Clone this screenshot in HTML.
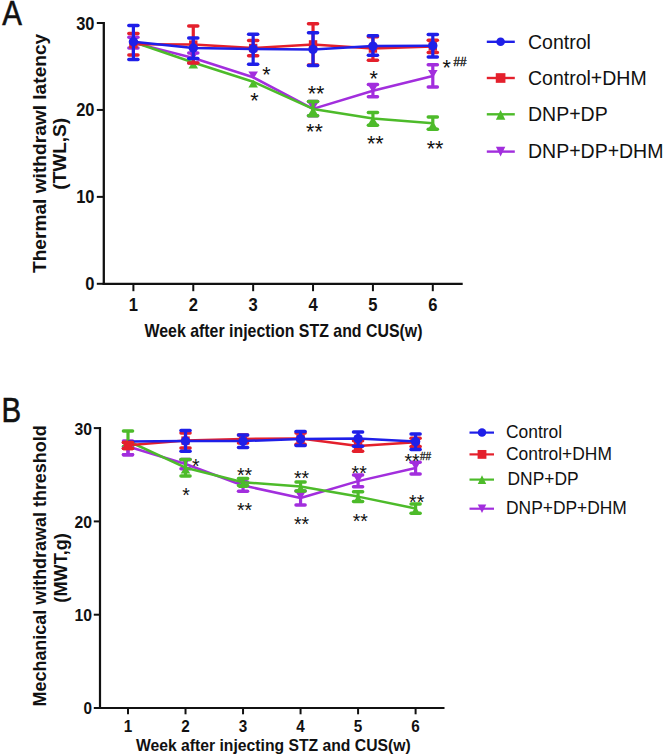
<!DOCTYPE html>
<html><head><meta charset="utf-8"><style>
html,body{margin:0;padding:0;background:#fff;}
body{width:663px;height:756px;overflow:hidden;}
svg{display:block;font-family:"Liberation Sans",sans-serif;}
</style></head><body>
<svg width="663" height="756" viewBox="0 0 663 756">
<rect width="663" height="756" fill="#fff"/>
<line x1="103.8" y1="22" x2="103.8" y2="285" stroke="#111" stroke-width="2.3"/>
<line x1="102.7" y1="283.8" x2="462.7" y2="283.8" stroke="#111" stroke-width="2.3"/>
<line x1="96.8" y1="23.01" x2="103.8" y2="23.01" stroke="#111" stroke-width="2"/>
<text transform="translate(94.5 29.51)" font-size="18" fill="#111" font-weight="bold" text-anchor="end" textLength="18.3" lengthAdjust="spacingAndGlyphs">30</text>
<line x1="96.8" y1="109.94" x2="103.8" y2="109.94" stroke="#111" stroke-width="2"/>
<text transform="translate(94.5 116.44)" font-size="18" fill="#111" font-weight="bold" text-anchor="end" textLength="18.3" lengthAdjust="spacingAndGlyphs">20</text>
<line x1="96.8" y1="196.87" x2="103.8" y2="196.87" stroke="#111" stroke-width="2"/>
<text transform="translate(94.5 203.37)" font-size="18" fill="#111" font-weight="bold" text-anchor="end" textLength="18.3" lengthAdjust="spacingAndGlyphs">10</text>
<line x1="96.8" y1="283.8" x2="103.8" y2="283.8" stroke="#111" stroke-width="2"/>
<text transform="translate(94.5 290.3)" font-size="18" fill="#111" font-weight="bold" text-anchor="end" textLength="9.2" lengthAdjust="spacingAndGlyphs">0</text>
<line x1="133.4" y1="283.8" x2="133.4" y2="291.2" stroke="#111" stroke-width="2"/>
<text transform="translate(133.4 311)" font-size="18" fill="#111" font-weight="bold" text-anchor="middle" textLength="9.2" lengthAdjust="spacingAndGlyphs">1</text>
<line x1="193.28" y1="283.8" x2="193.28" y2="291.2" stroke="#111" stroke-width="2"/>
<text transform="translate(193.28 311)" font-size="18" fill="#111" font-weight="bold" text-anchor="middle" textLength="9.2" lengthAdjust="spacingAndGlyphs">2</text>
<line x1="253.16" y1="283.8" x2="253.16" y2="291.2" stroke="#111" stroke-width="2"/>
<text transform="translate(253.16 311)" font-size="18" fill="#111" font-weight="bold" text-anchor="middle" textLength="9.2" lengthAdjust="spacingAndGlyphs">3</text>
<line x1="313.04" y1="283.8" x2="313.04" y2="291.2" stroke="#111" stroke-width="2"/>
<text transform="translate(313.04 311)" font-size="18" fill="#111" font-weight="bold" text-anchor="middle" textLength="9.2" lengthAdjust="spacingAndGlyphs">4</text>
<line x1="372.92" y1="283.8" x2="372.92" y2="291.2" stroke="#111" stroke-width="2"/>
<text transform="translate(372.92 311)" font-size="18" fill="#111" font-weight="bold" text-anchor="middle" textLength="9.2" lengthAdjust="spacingAndGlyphs">5</text>
<line x1="432.8" y1="283.8" x2="432.8" y2="291.2" stroke="#111" stroke-width="2"/>
<text transform="translate(432.8 311)" font-size="18" fill="#111" font-weight="bold" text-anchor="middle" textLength="9.2" lengthAdjust="spacingAndGlyphs">6</text>
<text transform="translate(283.5 337.0)" font-size="18.5" fill="#111" font-weight="bold" text-anchor="middle" textLength="278" lengthAdjust="spacingAndGlyphs">Week after injection STZ and CUS(w)</text>
<text transform="translate(46 153.4) rotate(-90)" font-size="19" fill="#111" font-weight="bold" text-anchor="middle" textLength="239.3" lengthAdjust="spacingAndGlyphs">Thermal withdrawl latency</text>
<text transform="translate(65.5 153.8) rotate(-90)" font-size="19" fill="#111" font-weight="bold" text-anchor="middle" textLength="72" lengthAdjust="spacingAndGlyphs">(TWL,S)</text>
<text transform="translate(2.3 24.8) scale(0.82 1)" font-size="36" fill="#111" stroke="#111" stroke-width="0.6">A</text>
<path d="M133.4 42.6 L193.28 58.0 L253.16 77.3 L313.04 108.9 L372.92 90.7 L432.8 76.0" fill="none" stroke="#a22edd" stroke-width="2.5" stroke-linejoin="round"/>
<line x1="133.4" y1="37.3" x2="133.4" y2="47.9" stroke="#a22edd" stroke-width="3.2"/>
<line x1="128.85" y1="37.3" x2="137.95" y2="37.3" stroke="#a22edd" stroke-width="3.5" stroke-linecap="round"/>
<line x1="128.85" y1="47.9" x2="137.95" y2="47.9" stroke="#a22edd" stroke-width="3.5" stroke-linecap="round"/>
<path d="M128.6 36.7 L138.2 36.7 L133.4 44.6 Z" fill="#a22edd"/>
<line x1="193.28" y1="53.1" x2="193.28" y2="62.9" stroke="#a22edd" stroke-width="3.2"/>
<line x1="188.73" y1="53.1" x2="197.83" y2="53.1" stroke="#a22edd" stroke-width="3.5" stroke-linecap="round"/>
<line x1="188.73" y1="62.9" x2="197.83" y2="62.9" stroke="#a22edd" stroke-width="3.5" stroke-linecap="round"/>
<path d="M188.48 52.1 L198.08 52.1 L193.28 60.0 Z" fill="#a22edd"/>
<path d="M248.36 71.4 L257.96 71.4 L253.16 79.3 Z" fill="#a22edd"/>
<line x1="313.04" y1="101.5" x2="313.04" y2="115.7" stroke="#a22edd" stroke-width="3.2"/>
<line x1="308.49" y1="101.5" x2="317.59" y2="101.5" stroke="#a22edd" stroke-width="3.5" stroke-linecap="round"/>
<line x1="308.49" y1="115.7" x2="317.59" y2="115.7" stroke="#a22edd" stroke-width="3.5" stroke-linecap="round"/>
<path d="M308.24 103.0 L317.84 103.0 L313.04 110.9 Z" fill="#a22edd"/>
<line x1="372.92" y1="84.5" x2="372.92" y2="96.7" stroke="#a22edd" stroke-width="3.2"/>
<line x1="368.37" y1="84.5" x2="377.47" y2="84.5" stroke="#a22edd" stroke-width="3.5" stroke-linecap="round"/>
<line x1="368.37" y1="96.7" x2="377.47" y2="96.7" stroke="#a22edd" stroke-width="3.5" stroke-linecap="round"/>
<path d="M368.12 84.8 L377.72 84.8 L372.92 92.7 Z" fill="#a22edd"/>
<line x1="432.8" y1="64.7" x2="432.8" y2="87.0" stroke="#a22edd" stroke-width="3.2"/>
<line x1="428.25" y1="64.7" x2="437.35" y2="64.7" stroke="#a22edd" stroke-width="3.5" stroke-linecap="round"/>
<line x1="428.25" y1="87.0" x2="437.35" y2="87.0" stroke="#a22edd" stroke-width="3.5" stroke-linecap="round"/>
<path d="M428 70.1 L437.6 70.1 L432.8 78.0 Z" fill="#a22edd"/>
<path d="M133.4 42.0 L193.28 62.5 L253.16 81.7 L313.04 108.9 L372.92 118.4 L432.8 123.3" fill="none" stroke="#4dbb2a" stroke-width="2.5" stroke-linejoin="round"/>
<path d="M128.6 47.9 L138.2 47.9 L133.4 40.0 Z" fill="#4dbb2a"/>
<path d="M188.48 68.4 L198.08 68.4 L193.28 60.5 Z" fill="#4dbb2a"/>
<path d="M248.36 87.6 L257.96 87.6 L253.16 79.7 Z" fill="#4dbb2a"/>
<line x1="313.04" y1="101.5" x2="313.04" y2="115.7" stroke="#4dbb2a" stroke-width="3.2"/>
<line x1="308.49" y1="101.5" x2="317.59" y2="101.5" stroke="#4dbb2a" stroke-width="3.5" stroke-linecap="round"/>
<line x1="308.49" y1="115.7" x2="317.59" y2="115.7" stroke="#4dbb2a" stroke-width="3.5" stroke-linecap="round"/>
<path d="M308.24 114.8 L317.84 114.8 L313.04 106.9 Z" fill="#4dbb2a"/>
<line x1="372.92" y1="112.5" x2="372.92" y2="125.2" stroke="#4dbb2a" stroke-width="3.2"/>
<line x1="368.37" y1="112.5" x2="377.47" y2="112.5" stroke="#4dbb2a" stroke-width="3.5" stroke-linecap="round"/>
<line x1="368.37" y1="125.2" x2="377.47" y2="125.2" stroke="#4dbb2a" stroke-width="3.5" stroke-linecap="round"/>
<path d="M368.12 124.3 L377.72 124.3 L372.92 116.4 Z" fill="#4dbb2a"/>
<line x1="432.8" y1="117.0" x2="432.8" y2="129.3" stroke="#4dbb2a" stroke-width="3.2"/>
<line x1="428.25" y1="117.0" x2="437.35" y2="117.0" stroke="#4dbb2a" stroke-width="3.5" stroke-linecap="round"/>
<line x1="428.25" y1="129.3" x2="437.35" y2="129.3" stroke="#4dbb2a" stroke-width="3.5" stroke-linecap="round"/>
<path d="M428 129.2 L437.6 129.2 L432.8 121.3 Z" fill="#4dbb2a"/>
<path d="M133.4 44.2 L193.28 44.6 L253.16 48.0 L313.04 44.4 L372.92 48.5 L432.8 46.5" fill="none" stroke="#e4202c" stroke-width="2.5" stroke-linejoin="round"/>
<line x1="133.4" y1="33.4" x2="133.4" y2="55.0" stroke="#e4202c" stroke-width="3.2"/>
<line x1="128.85" y1="33.4" x2="137.95" y2="33.4" stroke="#e4202c" stroke-width="3.5" stroke-linecap="round"/>
<line x1="128.85" y1="55.0" x2="137.95" y2="55.0" stroke="#e4202c" stroke-width="3.5" stroke-linecap="round"/>
<rect x="129.2" y="40.0" width="8.4" height="8.4" fill="#e4202c"/>
<line x1="193.28" y1="25.9" x2="193.28" y2="62.9" stroke="#e4202c" stroke-width="3.2"/>
<line x1="188.73" y1="25.9" x2="197.83" y2="25.9" stroke="#e4202c" stroke-width="3.5" stroke-linecap="round"/>
<line x1="188.73" y1="62.9" x2="197.83" y2="62.9" stroke="#e4202c" stroke-width="3.5" stroke-linecap="round"/>
<rect x="189.08" y="40.4" width="8.4" height="8.4" fill="#e4202c"/>
<line x1="253.16" y1="40.6" x2="253.16" y2="55.7" stroke="#e4202c" stroke-width="3.2"/>
<line x1="248.61" y1="40.6" x2="257.71" y2="40.6" stroke="#e4202c" stroke-width="3.5" stroke-linecap="round"/>
<line x1="248.61" y1="55.7" x2="257.71" y2="55.7" stroke="#e4202c" stroke-width="3.5" stroke-linecap="round"/>
<rect x="248.96" y="43.8" width="8.4" height="8.4" fill="#e4202c"/>
<line x1="313.04" y1="23.7" x2="313.04" y2="65.0" stroke="#e4202c" stroke-width="3.2"/>
<line x1="308.49" y1="23.7" x2="317.59" y2="23.7" stroke="#e4202c" stroke-width="3.5" stroke-linecap="round"/>
<line x1="308.49" y1="65.0" x2="317.59" y2="65.0" stroke="#e4202c" stroke-width="3.5" stroke-linecap="round"/>
<rect x="308.84" y="40.2" width="8.4" height="8.4" fill="#e4202c"/>
<line x1="372.92" y1="36.8" x2="372.92" y2="60.2" stroke="#e4202c" stroke-width="3.2"/>
<line x1="368.37" y1="36.8" x2="377.47" y2="36.8" stroke="#e4202c" stroke-width="3.5" stroke-linecap="round"/>
<line x1="368.37" y1="60.2" x2="377.47" y2="60.2" stroke="#e4202c" stroke-width="3.5" stroke-linecap="round"/>
<rect x="368.72" y="44.3" width="8.4" height="8.4" fill="#e4202c"/>
<line x1="432.8" y1="40.3" x2="432.8" y2="52.6" stroke="#e4202c" stroke-width="3.2"/>
<line x1="428.25" y1="40.3" x2="437.35" y2="40.3" stroke="#e4202c" stroke-width="3.5" stroke-linecap="round"/>
<line x1="428.25" y1="52.6" x2="437.35" y2="52.6" stroke="#e4202c" stroke-width="3.5" stroke-linecap="round"/>
<rect x="428.6" y="42.3" width="8.4" height="8.4" fill="#e4202c"/>
<path d="M133.4 41.8 L193.28 48.0 L253.16 48.9 L313.04 49.4 L372.92 46.1 L432.8 45.8" fill="none" stroke="#1f1fe8" stroke-width="2.5" stroke-linejoin="round"/>
<line x1="133.4" y1="25.6" x2="133.4" y2="59.5" stroke="#1f1fe8" stroke-width="3.2"/>
<line x1="128.85" y1="25.6" x2="137.95" y2="25.6" stroke="#1f1fe8" stroke-width="3.5" stroke-linecap="round"/>
<line x1="128.85" y1="59.5" x2="137.95" y2="59.5" stroke="#1f1fe8" stroke-width="3.5" stroke-linecap="round"/>
<circle cx="133.4" cy="41.8" r="4.7" fill="#1f1fe8"/>
<line x1="193.28" y1="38.0" x2="193.28" y2="58.4" stroke="#1f1fe8" stroke-width="3.2"/>
<line x1="188.73" y1="38.0" x2="197.83" y2="38.0" stroke="#1f1fe8" stroke-width="3.5" stroke-linecap="round"/>
<line x1="188.73" y1="58.4" x2="197.83" y2="58.4" stroke="#1f1fe8" stroke-width="3.5" stroke-linecap="round"/>
<circle cx="193.28" cy="48.0" r="4.7" fill="#1f1fe8"/>
<line x1="253.16" y1="34.3" x2="253.16" y2="64.2" stroke="#1f1fe8" stroke-width="3.2"/>
<line x1="248.61" y1="34.3" x2="257.71" y2="34.3" stroke="#1f1fe8" stroke-width="3.5" stroke-linecap="round"/>
<line x1="248.61" y1="64.2" x2="257.71" y2="64.2" stroke="#1f1fe8" stroke-width="3.5" stroke-linecap="round"/>
<circle cx="253.16" cy="48.9" r="4.7" fill="#1f1fe8"/>
<line x1="313.04" y1="32.8" x2="313.04" y2="65.5" stroke="#1f1fe8" stroke-width="3.2"/>
<line x1="308.49" y1="32.8" x2="317.59" y2="32.8" stroke="#1f1fe8" stroke-width="3.5" stroke-linecap="round"/>
<line x1="308.49" y1="65.5" x2="317.59" y2="65.5" stroke="#1f1fe8" stroke-width="3.5" stroke-linecap="round"/>
<circle cx="313.04" cy="49.4" r="4.7" fill="#1f1fe8"/>
<line x1="372.92" y1="35.8" x2="372.92" y2="55.2" stroke="#1f1fe8" stroke-width="3.2"/>
<line x1="368.37" y1="35.8" x2="377.47" y2="35.8" stroke="#1f1fe8" stroke-width="3.5" stroke-linecap="round"/>
<line x1="368.37" y1="55.2" x2="377.47" y2="55.2" stroke="#1f1fe8" stroke-width="3.5" stroke-linecap="round"/>
<circle cx="372.92" cy="46.1" r="4.7" fill="#1f1fe8"/>
<line x1="432.8" y1="34.5" x2="432.8" y2="57.0" stroke="#1f1fe8" stroke-width="3.2"/>
<line x1="428.25" y1="34.5" x2="437.35" y2="34.5" stroke="#1f1fe8" stroke-width="3.5" stroke-linecap="round"/>
<line x1="428.25" y1="57.0" x2="437.35" y2="57.0" stroke="#1f1fe8" stroke-width="3.5" stroke-linecap="round"/>
<circle cx="432.8" cy="45.8" r="4.7" fill="#1f1fe8"/>
<text transform="translate(266.5 81.53)" font-size="21.5" fill="#111" text-anchor="middle">*</text>
<text transform="translate(254.4 107.83)" font-size="21.5" fill="#111" text-anchor="middle">*</text>
<text transform="translate(316 101.13)" font-size="21.5" fill="#111" text-anchor="middle">**</text>
<text transform="translate(314.4 139.23)" font-size="21.5" fill="#111" text-anchor="middle">**</text>
<text transform="translate(373.8 86.03)" font-size="21.5" fill="#111" text-anchor="middle">*</text>
<text transform="translate(375.3 151.34)" font-size="21.5" fill="#111" text-anchor="middle">**</text>
<text transform="translate(446.6 75.14)" font-size="21.5" fill="#111" text-anchor="middle">*</text>
<text transform="translate(435 156.34)" font-size="21.5" fill="#111" text-anchor="middle">**</text>
<text transform="translate(453.5 65.6)" font-size="12.5" fill="#111" stroke="#111" stroke-width="0.35" textLength="13" lengthAdjust="spacingAndGlyphs">##</text>
<line x1="486.8" y1="41.8" x2="514.8" y2="41.8" stroke="#1f1fe8" stroke-width="2.4"/>
<circle cx="500.6" cy="41.8" r="4.32" fill="#1f1fe8"/>
<text transform="translate(528.0 48.5)" font-size="20.5" fill="#111" textLength="62.86" lengthAdjust="spacingAndGlyphs">Control</text>
<line x1="486.8" y1="78.0" x2="514.8" y2="78.0" stroke="#e4202c" stroke-width="2.4"/>
<rect x="495.77" y="73.17" width="9.66" height="9.66" fill="#e4202c"/>
<text transform="translate(528.0 84.7)" font-size="20.5" fill="#111" textLength="118.66" lengthAdjust="spacingAndGlyphs">Control+DHM</text>
<line x1="486.8" y1="114.3" x2="514.8" y2="114.3" stroke="#4dbb2a" stroke-width="2.4"/>
<path d="M495.9 119.7 L505.3 119.7 L500.6 110.1 Z" fill="#4dbb2a"/>
<text transform="translate(528.0 121.0)" font-size="20.5" fill="#111" textLength="79.65" lengthAdjust="spacingAndGlyphs">DNP+DP</text>
<line x1="486.8" y1="151.6" x2="514.8" y2="151.6" stroke="#a22edd" stroke-width="2.4"/>
<path d="M495.9 146.8 L505.3 146.8 L500.6 156.4 Z" fill="#a22edd"/>
<text transform="translate(528.0 158.3)" font-size="20.5" fill="#111" textLength="135.44" lengthAdjust="spacingAndGlyphs">DNP+DP+DHM</text>
<line x1="100.0" y1="427" x2="100.0" y2="709" stroke="#111" stroke-width="2.2"/>
<line x1="98.9" y1="708" x2="444.5" y2="708" stroke="#111" stroke-width="2.2"/>
<line x1="93.8" y1="428.1" x2="100.0" y2="428.1" stroke="#111" stroke-width="2"/>
<text transform="translate(92 434.5)" font-size="16" fill="#111" font-weight="bold" text-anchor="end" textLength="17.5" lengthAdjust="spacingAndGlyphs">30</text>
<line x1="93.8" y1="521.4" x2="100.0" y2="521.4" stroke="#111" stroke-width="2"/>
<text transform="translate(92 527.8)" font-size="16" fill="#111" font-weight="bold" text-anchor="end" textLength="17.5" lengthAdjust="spacingAndGlyphs">20</text>
<line x1="93.8" y1="614.7" x2="100.0" y2="614.7" stroke="#111" stroke-width="2"/>
<text transform="translate(92 621.1)" font-size="16" fill="#111" font-weight="bold" text-anchor="end" textLength="17.5" lengthAdjust="spacingAndGlyphs">10</text>
<line x1="93.8" y1="708.0" x2="100.0" y2="708.0" stroke="#111" stroke-width="2"/>
<text transform="translate(92 714.4)" font-size="16" fill="#111" font-weight="bold" text-anchor="end" textLength="8.5" lengthAdjust="spacingAndGlyphs">0</text>
<line x1="128.0" y1="708" x2="128.0" y2="714.3" stroke="#111" stroke-width="2"/>
<text transform="translate(128.0 731.6)" font-size="16" fill="#111" font-weight="bold" text-anchor="middle" textLength="8.5" lengthAdjust="spacingAndGlyphs">1</text>
<line x1="185.52" y1="708" x2="185.52" y2="714.3" stroke="#111" stroke-width="2"/>
<text transform="translate(185.52 731.6)" font-size="16" fill="#111" font-weight="bold" text-anchor="middle" textLength="8.5" lengthAdjust="spacingAndGlyphs">2</text>
<line x1="243.04" y1="708" x2="243.04" y2="714.3" stroke="#111" stroke-width="2"/>
<text transform="translate(243.04 731.6)" font-size="16" fill="#111" font-weight="bold" text-anchor="middle" textLength="8.5" lengthAdjust="spacingAndGlyphs">3</text>
<line x1="300.56" y1="708" x2="300.56" y2="714.3" stroke="#111" stroke-width="2"/>
<text transform="translate(300.56 731.6)" font-size="16" fill="#111" font-weight="bold" text-anchor="middle" textLength="8.5" lengthAdjust="spacingAndGlyphs">4</text>
<line x1="358.08" y1="708" x2="358.08" y2="714.3" stroke="#111" stroke-width="2"/>
<text transform="translate(358.08 731.6)" font-size="16" fill="#111" font-weight="bold" text-anchor="middle" textLength="8.5" lengthAdjust="spacingAndGlyphs">5</text>
<line x1="415.6" y1="708" x2="415.6" y2="714.3" stroke="#111" stroke-width="2"/>
<text transform="translate(415.6 731.6)" font-size="16" fill="#111" font-weight="bold" text-anchor="middle" textLength="8.5" lengthAdjust="spacingAndGlyphs">6</text>
<text transform="translate(273.3 750.7)" font-size="16" fill="#111" font-weight="bold" text-anchor="middle" textLength="274.7" lengthAdjust="spacingAndGlyphs">Week after injecting STZ and CUS(w)</text>
<text transform="translate(46.3 565.9) rotate(-90)" font-size="18" fill="#111" font-weight="bold" text-anchor="middle" textLength="281.2" lengthAdjust="spacingAndGlyphs">Mechanical withdrawal threshold</text>
<text transform="translate(67 567.9) rotate(-90)" font-size="18" fill="#111" font-weight="bold" text-anchor="middle" textLength="69.5" lengthAdjust="spacingAndGlyphs">(MWT,g)</text>
<text transform="translate(1.6 422.0) scale(0.83 1)" font-size="35.5" fill="#111" stroke="#111" stroke-width="0.6">B</text>
<path d="M128.0 446.5 L185.52 464.0 L243.04 485.5 L300.56 498.0 L358.08 481.1 L415.6 468.0" fill="none" stroke="#a22edd" stroke-width="2.5" stroke-linejoin="round"/>
<line x1="128.0" y1="441.0" x2="128.0" y2="454.7" stroke="#a22edd" stroke-width="3.2"/>
<line x1="123.45" y1="441.0" x2="132.55" y2="441.0" stroke="#a22edd" stroke-width="3.5" stroke-linecap="round"/>
<line x1="123.45" y1="454.7" x2="132.55" y2="454.7" stroke="#a22edd" stroke-width="3.5" stroke-linecap="round"/>
<path d="M123.2 440.6 L132.8 440.6 L128.0 448.5 Z" fill="#a22edd"/>
<line x1="185.52" y1="459.5" x2="185.52" y2="468.8" stroke="#a22edd" stroke-width="3.2"/>
<line x1="180.97" y1="459.5" x2="190.07" y2="459.5" stroke="#a22edd" stroke-width="3.5" stroke-linecap="round"/>
<line x1="180.97" y1="468.8" x2="190.07" y2="468.8" stroke="#a22edd" stroke-width="3.5" stroke-linecap="round"/>
<path d="M180.72 458.1 L190.32 458.1 L185.52 466.0 Z" fill="#a22edd"/>
<line x1="243.04" y1="482.0" x2="243.04" y2="491.2" stroke="#a22edd" stroke-width="3.2"/>
<line x1="238.49" y1="482.0" x2="247.59" y2="482.0" stroke="#a22edd" stroke-width="3.5" stroke-linecap="round"/>
<line x1="238.49" y1="491.2" x2="247.59" y2="491.2" stroke="#a22edd" stroke-width="3.5" stroke-linecap="round"/>
<path d="M238.24 479.6 L247.84 479.6 L243.04 487.5 Z" fill="#a22edd"/>
<line x1="300.56" y1="491.0" x2="300.56" y2="505.0" stroke="#a22edd" stroke-width="3.2"/>
<line x1="296.01" y1="491.0" x2="305.11" y2="491.0" stroke="#a22edd" stroke-width="3.5" stroke-linecap="round"/>
<line x1="296.01" y1="505.0" x2="305.11" y2="505.0" stroke="#a22edd" stroke-width="3.5" stroke-linecap="round"/>
<path d="M295.76 492.1 L305.36 492.1 L300.56 500.0 Z" fill="#a22edd"/>
<line x1="358.08" y1="475.1" x2="358.08" y2="486.8" stroke="#a22edd" stroke-width="3.2"/>
<line x1="353.53" y1="475.1" x2="362.63" y2="475.1" stroke="#a22edd" stroke-width="3.5" stroke-linecap="round"/>
<line x1="353.53" y1="486.8" x2="362.63" y2="486.8" stroke="#a22edd" stroke-width="3.5" stroke-linecap="round"/>
<path d="M353.28 475.2 L362.88 475.2 L358.08 483.1 Z" fill="#a22edd"/>
<line x1="415.6" y1="462.3" x2="415.6" y2="473.9" stroke="#a22edd" stroke-width="3.2"/>
<line x1="411.05" y1="462.3" x2="420.15" y2="462.3" stroke="#a22edd" stroke-width="3.5" stroke-linecap="round"/>
<line x1="411.05" y1="473.9" x2="420.15" y2="473.9" stroke="#a22edd" stroke-width="3.5" stroke-linecap="round"/>
<path d="M410.8 462.1 L420.4 462.1 L415.6 470.0 Z" fill="#a22edd"/>
<path d="M128.0 441.0 L185.52 467.7 L243.04 482.2 L300.56 486.4 L358.08 496.6 L415.6 508.5" fill="none" stroke="#4dbb2a" stroke-width="2.5" stroke-linejoin="round"/>
<line x1="128.0" y1="430.9" x2="128.0" y2="446.5" stroke="#4dbb2a" stroke-width="3.2"/>
<line x1="123.45" y1="430.9" x2="132.55" y2="430.9" stroke="#4dbb2a" stroke-width="3.5" stroke-linecap="round"/>
<line x1="123.45" y1="446.5" x2="132.55" y2="446.5" stroke="#4dbb2a" stroke-width="3.5" stroke-linecap="round"/>
<path d="M123.2 446.9 L132.8 446.9 L128.0 439.0 Z" fill="#4dbb2a"/>
<line x1="185.52" y1="459.4" x2="185.52" y2="476.0" stroke="#4dbb2a" stroke-width="3.2"/>
<line x1="180.97" y1="459.4" x2="190.07" y2="459.4" stroke="#4dbb2a" stroke-width="3.5" stroke-linecap="round"/>
<line x1="180.97" y1="476.0" x2="190.07" y2="476.0" stroke="#4dbb2a" stroke-width="3.5" stroke-linecap="round"/>
<path d="M180.72 473.6 L190.32 473.6 L185.52 465.7 Z" fill="#4dbb2a"/>
<line x1="243.04" y1="478.6" x2="243.04" y2="485.5" stroke="#4dbb2a" stroke-width="3.2"/>
<line x1="238.49" y1="478.6" x2="247.59" y2="478.6" stroke="#4dbb2a" stroke-width="3.5" stroke-linecap="round"/>
<line x1="238.49" y1="485.5" x2="247.59" y2="485.5" stroke="#4dbb2a" stroke-width="3.5" stroke-linecap="round"/>
<path d="M238.24 488.1 L247.84 488.1 L243.04 480.2 Z" fill="#4dbb2a"/>
<line x1="300.56" y1="481.9" x2="300.56" y2="490.9" stroke="#4dbb2a" stroke-width="3.2"/>
<line x1="296.01" y1="481.9" x2="305.11" y2="481.9" stroke="#4dbb2a" stroke-width="3.5" stroke-linecap="round"/>
<line x1="296.01" y1="490.9" x2="305.11" y2="490.9" stroke="#4dbb2a" stroke-width="3.5" stroke-linecap="round"/>
<path d="M295.76 492.3 L305.36 492.3 L300.56 484.4 Z" fill="#4dbb2a"/>
<line x1="358.08" y1="491.7" x2="358.08" y2="501.5" stroke="#4dbb2a" stroke-width="3.2"/>
<line x1="353.53" y1="491.7" x2="362.63" y2="491.7" stroke="#4dbb2a" stroke-width="3.5" stroke-linecap="round"/>
<line x1="353.53" y1="501.5" x2="362.63" y2="501.5" stroke="#4dbb2a" stroke-width="3.5" stroke-linecap="round"/>
<path d="M353.28 502.5 L362.88 502.5 L358.08 494.6 Z" fill="#4dbb2a"/>
<line x1="415.6" y1="504.0" x2="415.6" y2="513.2" stroke="#4dbb2a" stroke-width="3.2"/>
<line x1="411.05" y1="504.0" x2="420.15" y2="504.0" stroke="#4dbb2a" stroke-width="3.5" stroke-linecap="round"/>
<line x1="411.05" y1="513.2" x2="420.15" y2="513.2" stroke="#4dbb2a" stroke-width="3.5" stroke-linecap="round"/>
<path d="M410.8 514.4 L420.4 514.4 L415.6 506.5 Z" fill="#4dbb2a"/>
<path d="M128.0 445.3 L185.52 440.6 L243.04 438.9 L300.56 438.6 L358.08 446.0 L415.6 442.3" fill="none" stroke="#e4202c" stroke-width="2.5" stroke-linejoin="round"/>
<line x1="128.0" y1="442.6" x2="128.0" y2="448.4" stroke="#e4202c" stroke-width="3.2"/>
<line x1="123.45" y1="442.6" x2="132.55" y2="442.6" stroke="#e4202c" stroke-width="3.5" stroke-linecap="round"/>
<line x1="123.45" y1="448.4" x2="132.55" y2="448.4" stroke="#e4202c" stroke-width="3.5" stroke-linecap="round"/>
<rect x="123.8" y="441.1" width="8.4" height="8.4" fill="#e4202c"/>
<line x1="185.52" y1="433.1" x2="185.52" y2="448.1" stroke="#e4202c" stroke-width="3.2"/>
<line x1="180.97" y1="433.1" x2="190.07" y2="433.1" stroke="#e4202c" stroke-width="3.5" stroke-linecap="round"/>
<line x1="180.97" y1="448.1" x2="190.07" y2="448.1" stroke="#e4202c" stroke-width="3.5" stroke-linecap="round"/>
<rect x="181.32" y="436.4" width="8.4" height="8.4" fill="#e4202c"/>
<line x1="243.04" y1="435.0" x2="243.04" y2="443.0" stroke="#e4202c" stroke-width="3.2"/>
<line x1="238.49" y1="435.0" x2="247.59" y2="435.0" stroke="#e4202c" stroke-width="3.5" stroke-linecap="round"/>
<line x1="238.49" y1="443.0" x2="247.59" y2="443.0" stroke="#e4202c" stroke-width="3.5" stroke-linecap="round"/>
<rect x="238.84" y="434.7" width="8.4" height="8.4" fill="#e4202c"/>
<line x1="300.56" y1="433.0" x2="300.56" y2="444.2" stroke="#e4202c" stroke-width="3.2"/>
<line x1="296.01" y1="433.0" x2="305.11" y2="433.0" stroke="#e4202c" stroke-width="3.5" stroke-linecap="round"/>
<line x1="296.01" y1="444.2" x2="305.11" y2="444.2" stroke="#e4202c" stroke-width="3.5" stroke-linecap="round"/>
<rect x="296.36" y="434.4" width="8.4" height="8.4" fill="#e4202c"/>
<line x1="358.08" y1="440.8" x2="358.08" y2="451.2" stroke="#e4202c" stroke-width="3.2"/>
<line x1="353.53" y1="440.8" x2="362.63" y2="440.8" stroke="#e4202c" stroke-width="3.5" stroke-linecap="round"/>
<line x1="353.53" y1="451.2" x2="362.63" y2="451.2" stroke="#e4202c" stroke-width="3.5" stroke-linecap="round"/>
<rect x="353.88" y="441.8" width="8.4" height="8.4" fill="#e4202c"/>
<line x1="415.6" y1="438.2" x2="415.6" y2="446.5" stroke="#e4202c" stroke-width="3.2"/>
<line x1="411.05" y1="438.2" x2="420.15" y2="438.2" stroke="#e4202c" stroke-width="3.5" stroke-linecap="round"/>
<line x1="411.05" y1="446.5" x2="420.15" y2="446.5" stroke="#e4202c" stroke-width="3.5" stroke-linecap="round"/>
<rect x="411.4" y="438.1" width="8.4" height="8.4" fill="#e4202c"/>
<path d="M128.0 441.5 L185.52 441.0 L243.04 441.1 L300.56 438.9 L358.08 438.6 L415.6 441.6" fill="none" stroke="#1f1fe8" stroke-width="2.5" stroke-linejoin="round"/>
<line x1="185.52" y1="430.4" x2="185.52" y2="451.2" stroke="#1f1fe8" stroke-width="3.2"/>
<line x1="180.97" y1="430.4" x2="190.07" y2="430.4" stroke="#1f1fe8" stroke-width="3.5" stroke-linecap="round"/>
<line x1="180.97" y1="451.2" x2="190.07" y2="451.2" stroke="#1f1fe8" stroke-width="3.5" stroke-linecap="round"/>
<circle cx="185.52" cy="441.0" r="4.7" fill="#1f1fe8"/>
<line x1="243.04" y1="435.1" x2="243.04" y2="447.6" stroke="#1f1fe8" stroke-width="3.2"/>
<line x1="238.49" y1="435.1" x2="247.59" y2="435.1" stroke="#1f1fe8" stroke-width="3.5" stroke-linecap="round"/>
<line x1="238.49" y1="447.6" x2="247.59" y2="447.6" stroke="#1f1fe8" stroke-width="3.5" stroke-linecap="round"/>
<circle cx="243.04" cy="441.1" r="4.7" fill="#1f1fe8"/>
<line x1="300.56" y1="431.6" x2="300.56" y2="445.6" stroke="#1f1fe8" stroke-width="3.2"/>
<line x1="296.01" y1="431.6" x2="305.11" y2="431.6" stroke="#1f1fe8" stroke-width="3.5" stroke-linecap="round"/>
<line x1="296.01" y1="445.6" x2="305.11" y2="445.6" stroke="#1f1fe8" stroke-width="3.5" stroke-linecap="round"/>
<circle cx="300.56" cy="438.9" r="4.7" fill="#1f1fe8"/>
<line x1="358.08" y1="431.9" x2="358.08" y2="446.2" stroke="#1f1fe8" stroke-width="3.2"/>
<line x1="353.53" y1="431.9" x2="362.63" y2="431.9" stroke="#1f1fe8" stroke-width="3.5" stroke-linecap="round"/>
<line x1="353.53" y1="446.2" x2="362.63" y2="446.2" stroke="#1f1fe8" stroke-width="3.5" stroke-linecap="round"/>
<circle cx="358.08" cy="438.6" r="4.7" fill="#1f1fe8"/>
<line x1="415.6" y1="434.1" x2="415.6" y2="449.4" stroke="#1f1fe8" stroke-width="3.2"/>
<line x1="411.05" y1="434.1" x2="420.15" y2="434.1" stroke="#1f1fe8" stroke-width="3.5" stroke-linecap="round"/>
<line x1="411.05" y1="449.4" x2="420.15" y2="449.4" stroke="#1f1fe8" stroke-width="3.5" stroke-linecap="round"/>
<circle cx="415.6" cy="441.6" r="4.7" fill="#1f1fe8"/>
<line x1="128.0" y1="448.0" x2="128.0" y2="454.7" stroke="#a22edd" stroke-width="3.2"/>
<line x1="123.45" y1="448.0" x2="132.55" y2="448.0" stroke="#a22edd" stroke-width="3.5" stroke-linecap="round"/>
<line x1="123.45" y1="454.7" x2="132.55" y2="454.7" stroke="#a22edd" stroke-width="3.5" stroke-linecap="round"/>
<line x1="128.0" y1="442.6" x2="128.0" y2="448.4" stroke="#e4202c" stroke-width="3.2"/>
<line x1="123.45" y1="442.6" x2="132.55" y2="442.6" stroke="#e4202c" stroke-width="3.5" stroke-linecap="round"/>
<line x1="123.45" y1="448.4" x2="132.55" y2="448.4" stroke="#e4202c" stroke-width="3.5" stroke-linecap="round"/>
<rect x="123.8" y="441.1" width="8.4" height="8.4" fill="#e4202c"/>
<text transform="translate(195.7 472.75)" font-size="19.5" fill="#111" text-anchor="middle">*</text>
<text transform="translate(186.0 502.15)" font-size="19.5" fill="#111" text-anchor="middle">*</text>
<text transform="translate(244.6 481.56)" font-size="19.5" fill="#111" text-anchor="middle">**</text>
<text transform="translate(244.6 516.86)" font-size="19.5" fill="#111" text-anchor="middle">**</text>
<text transform="translate(301.5 485.45)" font-size="19.5" fill="#111" text-anchor="middle">**</text>
<text transform="translate(301.5 530.75)" font-size="19.5" fill="#111" text-anchor="middle">**</text>
<text transform="translate(359.2 480.25)" font-size="19.5" fill="#111" text-anchor="middle">**</text>
<text transform="translate(360.3 528.46)" font-size="19.5" fill="#111" text-anchor="middle">**</text>
<text transform="translate(412.1 468.25)" font-size="19.5" fill="#111" text-anchor="middle">**</text>
<text transform="translate(416.7 509.06)" font-size="19.5" fill="#111" text-anchor="middle">**</text>
<text transform="translate(420.0 460.0)" font-size="11.5" fill="#111" stroke="#111" stroke-width="0.3" textLength="11.2" lengthAdjust="spacingAndGlyphs">##</text>
<line x1="469.5" y1="432.6" x2="494" y2="432.6" stroke="#1f1fe8" stroke-width="2.2"/>
<circle cx="482" cy="432.6" r="4.23" fill="#1f1fe8"/>
<text transform="translate(506.0 438.1)" font-size="18" fill="#111" textLength="56.09" lengthAdjust="spacingAndGlyphs">Control</text>
<line x1="469.5" y1="454.4" x2="494" y2="454.4" stroke="#e4202c" stroke-width="2.2"/>
<rect x="477.59" y="449.99" width="8.82" height="8.82" fill="#e4202c"/>
<text transform="translate(506.0 459.9)" font-size="18" fill="#111" textLength="105.88" lengthAdjust="spacingAndGlyphs">Control+DHM</text>
<line x1="469.5" y1="479.6" x2="494" y2="479.6" stroke="#4dbb2a" stroke-width="2.2"/>
<path d="M477.77 483.92 L486.23 483.92 L482 475.28 Z" fill="#4dbb2a"/>
<text transform="translate(507.5 485.1)" font-size="18" fill="#111" textLength="71.07" lengthAdjust="spacingAndGlyphs">DNP+DP</text>
<line x1="469.5" y1="508.7" x2="494" y2="508.7" stroke="#a22edd" stroke-width="2.2"/>
<path d="M477.77 504.38 L486.23 504.38 L482 513.02 Z" fill="#a22edd"/>
<text transform="translate(506.0 514.2)" font-size="18" fill="#111" textLength="120.86" lengthAdjust="spacingAndGlyphs">DNP+DP+DHM</text>
</svg>
</body></html>
